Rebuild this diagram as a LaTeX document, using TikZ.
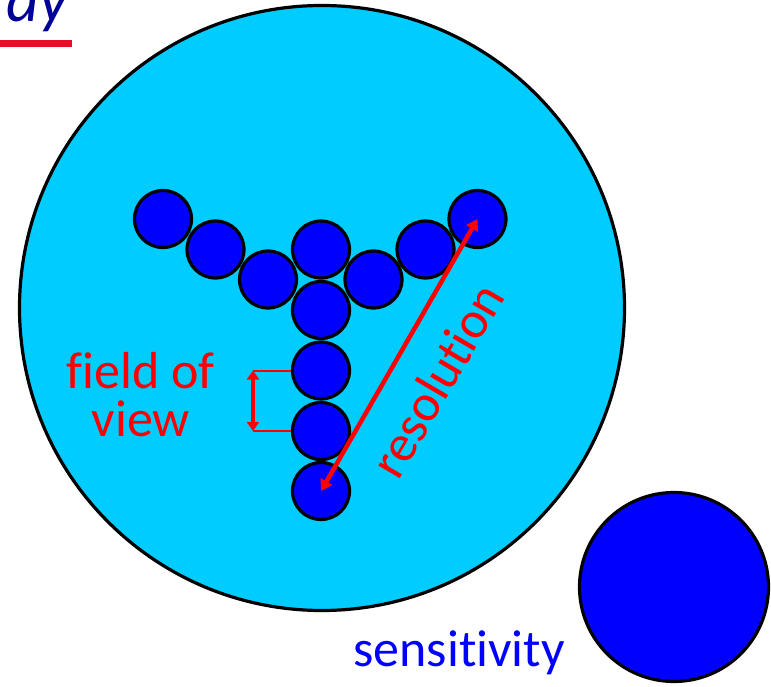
\documentclass[tikz,border=0pt]{standalone}
\usepackage{fontspec}
\setmainfont{Carlito}[Ligatures={NoCommon,NoContextual},Contextuals={NoAlternate}]
\usetikzlibrary{arrows.meta}
\definecolor{sky}{RGB}{0,204,255}
\definecolor{dot}{RGB}{0,0,255}
\definecolor{navy}{RGB}{0,0,150}
\definecolor{bar}{RGB}{226,16,36}
\tikzset{
  ball/.style={circle, draw=black, fill=dot, line width=3.2pt, minimum size=57pt, inner sep=0pt},
  redtext/.style={text=red, font=\fontsize{52}{48.7}\selectfont, inner sep=0pt},
  resarrow/.style={draw=red, line width=4.5pt, {Triangle[width=13pt,length=11pt]}-{Triangle[width=13pt,length=11pt]}},
  fovarrow/.style={draw=red, line width=4.5pt, {Triangle[width=12pt,length=9pt]}-{Triangle[width=12pt,length=9pt]}},
  fovline/.style={draw=red, line width=2pt}
}
\begin{document}
\begin{tikzpicture}[x=1pt,y=-1pt]
\useasboundingbox (0,0) rectangle (771,687);
% title fragment
\node[anchor=base east, inner sep=0pt, text=navy, font=\itshape\fontsize{64}{64}\selectfont] (title) at (68,22) {dy};
\fill[bar] (0,40) rectangle (72,47);
% big circle
\node[circle, draw=black, fill=sky, line width=3.2pt, minimum size=605pt, inner sep=0pt] (big) at (322,308) {};
% Y of balls
\node[ball] (b1) at (163,219) {};
\node[ball] (b2) at (215.5,249.5) {};
\node[ball] (b3) at (268,279.5) {};
\node[ball] (b4) at (321,249.5) {};
\node[ball] (b5) at (373.5,279.5) {};
\node[ball] (b6) at (425.5,249.5) {};
\node[ball] (b7) at (477.5,219) {};
\node[ball] (m1) at (321,310) {};
\node[ball] (m2) at (321,370.5) {};
\node[ball] (m3) at (321,431) {};
\node[ball] (m4) at (321,491) {};
% field of view
\coordinate (f1) at (253,370.5);
\coordinate (f2) at (253,431);
\draw[fovline] (f1) -- (m2.west);
\draw[fovline] (f2) -- (m3.west);
\draw[fovarrow] (f1) -- (f2);
\node[redtext, align=center, anchor=base] (fov) at (140.7,436.7) {f\kern0pt ield of\\view};
% resolution
\draw[resarrow] (m4.center) -- (b7.center);
\node[redtext, rotate=59.6] (res) at (437,380) {resolut\kern0pt ion};
% sensitivity
\node[ball, minimum size=189pt] (sens) at (674,587) {};
\node[text=dot, font=\fontsize{52}{52}\selectfont, inner sep=0pt, anchor=base] (senstext) at (459,666.7) {sensit\kern0pt ivit\kern0pt y};
\end{tikzpicture}
\end{document}
